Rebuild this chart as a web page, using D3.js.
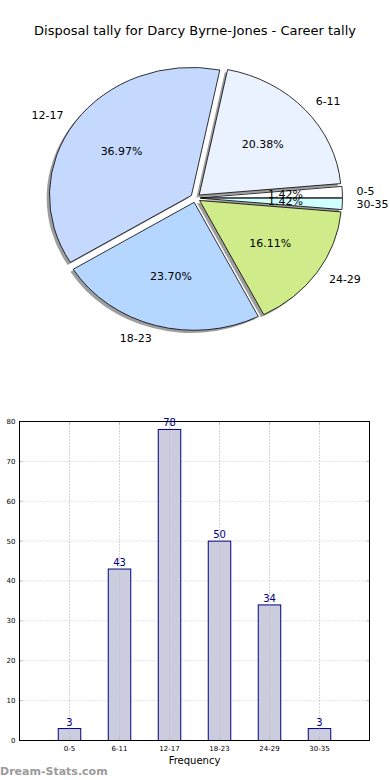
<!DOCTYPE html>
<html><head><meta charset="utf-8">
<script src="https://cdn.jsdelivr.net/npm/d3@7"></script>
<style>body{margin:0;background:#fff}svg{display:block;font-family:"DejaVu Sans",sans-serif}</style>
</head><body>
<svg id="c" width="390" height="780"></svg>
<script>
const categories = ["0-5","6-11","12-17","18-23","24-29","30-35"];
const counts = [3,43,78,50,34,3];
const sliceColors = ["#ffffff","#eaf1ff","#c5d9ff","#b5d6ff","#cfeb8a","#d0ffff"];
const yTicks = [0,10,20,30,40,50,60,70,80];
const title = "Disposal tally for Darcy Byrne-Jones - Career tally";

const svg = d3.select("#c");
svg.append("text").attr("x",195).attr("y",35).attr("text-anchor","middle")
  .attr("font-size",13).attr("fill","#000").text(title);

// ---- Pie ----
const cx = 195.5, cy = 198, rx = 142, ry = 128, ex = 0.035;
const total = d3.sum(counts);
const pie = d3.pie().sort(null).startAngle(Math.PI/2).endAngle(Math.PI/2 - 2*Math.PI);
const arcs = pie(counts);
const arcGen = d3.arc().innerRadius(0).outerRadius(1);
const gPie = svg.append("g");
function geom(d){
  const m = (d.startAngle + d.endAngle)/2;
  const th = Math.PI/2 - m;
  return {th, ox: cx + ex*rx*Math.cos(th), oy: cy - ex*ry*Math.sin(th)};
}
// shadows
arcs.forEach((d,i)=>{
  const g = geom(d);
  gPie.append("path").attr("d",arcGen(d))
    .attr("transform",`translate(${g.ox-2.8},${g.oy+2.6}) scale(${rx},${ry})`)
    .attr("fill","#000").attr("fill-opacity",0.38);
});
arcs.forEach((d,i)=>{
  const g = geom(d);
  gPie.append("path").attr("d",arcGen(d))
    .attr("transform",`translate(${g.ox},${g.oy}) scale(${rx},${ry})`)
    .attr("fill",sliceColors[i]).attr("stroke","#000").attr("stroke-width",0.8)
    .attr("vector-effect","non-scaling-stroke").attr("stroke-linejoin","round");
});
arcs.forEach((d,i)=>{
  const g = geom(d);
  const lx = g.ox + 1.1*rx*Math.cos(g.th), ly = g.oy - 1.1*ry*Math.sin(g.th);
  gPie.append("text").attr("x",lx).attr("y",ly).attr("dy","0.35em")
    .attr("text-anchor", Math.cos(g.th) > 0 ? "start" : "end")
    .attr("font-size",11).attr("fill","#000").text(categories[i]);
  const px = g.ox + 0.6*rx*Math.cos(g.th), py = g.oy - 0.6*ry*Math.sin(g.th);
  gPie.append("text").attr("x",px).attr("y",py).attr("dy","0.35em")
    .attr("text-anchor","middle").attr("font-size",11).attr("fill","#000")
    .text((counts[i]/total*100).toFixed(2)+"%");
});

// ---- Bar chart ----
const L = 19.5, R = 369.5, T = 421.5, B = 740.5;
const x = d3.scaleLinear().domain([-1,6]).range([L,R]);
const y = d3.scaleLinear().domain([0,80]).range([B,T]);
const gBar = svg.append("g");
const bw = 0.45;
// grid
gBar.selectAll(".gx").data(categories).join("line")
  .attr("x1",(d,i)=>x(i)).attr("x2",(d,i)=>x(i)).attr("y1",T).attr("y2",B)
  .attr("stroke","#c8c8c8").attr("stroke-dasharray","1,2");
gBar.selectAll(".gy").data(yTicks).join("line")
  .attr("x1",L).attr("x2",R).attr("y1",d=>y(d)).attr("y2",d=>y(d))
  .attr("stroke","#c8c8c8").attr("stroke-dasharray","1,2");
// bars
gBar.selectAll(".bar").data(counts).join("rect")
  .attr("x",(d,i)=>x(i-bw/2)).attr("width",x(bw)-x(0))
  .attr("y",d=>y(d)).attr("height",d=>y(0)-y(d))
  .attr("fill","#ccccdf").attr("stroke","#000080").attr("stroke-width",1);
gBar.selectAll(".gx2").data(categories).join("line")
  .attr("x1",(d,i)=>x(i)).attr("x2",(d,i)=>x(i)).attr("y1",d=>T).attr("y2",B)
  .attr("stroke","#b0b0c0").attr("stroke-dasharray","1,2").attr("stroke-opacity",0.6);
// tick marks
categories.forEach((c,i)=>{
  gBar.append("line").attr("x1",x(i)).attr("x2",x(i)).attr("y1",T).attr("y2",T+3).attr("stroke","#bbb");
  gBar.append("line").attr("x1",x(i)).attr("x2",x(i)).attr("y1",B).attr("y2",B-3).attr("stroke","#bbb");
});
yTicks.forEach(t=>{
  gBar.append("line").attr("x1",L).attr("x2",L+3).attr("y1",y(t)).attr("y2",y(t)).attr("stroke","#bbb");
  gBar.append("line").attr("x1",R).attr("x2",R-3).attr("y1",y(t)).attr("y2",y(t)).attr("stroke","#bbb");
});
// frame
gBar.append("rect").attr("x",L).attr("y",T).attr("width",R-L).attr("height",B-T)
  .attr("fill","none").attr("stroke","#000").attr("stroke-width",1);
// tick labels
gBar.selectAll(".yl").data(yTicks).join("text")
  .attr("x",L-4).attr("y",d=>y(d)).attr("dy","0.35em").attr("text-anchor","end")
  .attr("font-size",7).attr("fill","#000").text(d=>d);
gBar.selectAll(".xl").data(categories).join("text")
  .attr("x",(d,i)=>x(i)).attr("y",B+10).attr("text-anchor","middle")
  .attr("font-size",7).attr("fill","#000").text(d=>d);
// value labels
gBar.selectAll(".vl").data(counts).join("text")
  .attr("x",(d,i)=>x(i)).attr("y",d=>y(d)-3).attr("text-anchor","middle")
  .attr("font-size",10).attr("fill","#000080").text(d=>d);
gBar.append("text").attr("x",(L+R)/2).attr("y",764).attr("text-anchor","middle")
  .attr("font-size",10).attr("fill","#000").text("Frequency");
svg.append("text").attr("x",0).attr("y",775).attr("font-size",11).attr("font-weight","bold")
  .attr("fill","#9a9a9a").text("Dream-Stats.com");
</script>
</body></html>
